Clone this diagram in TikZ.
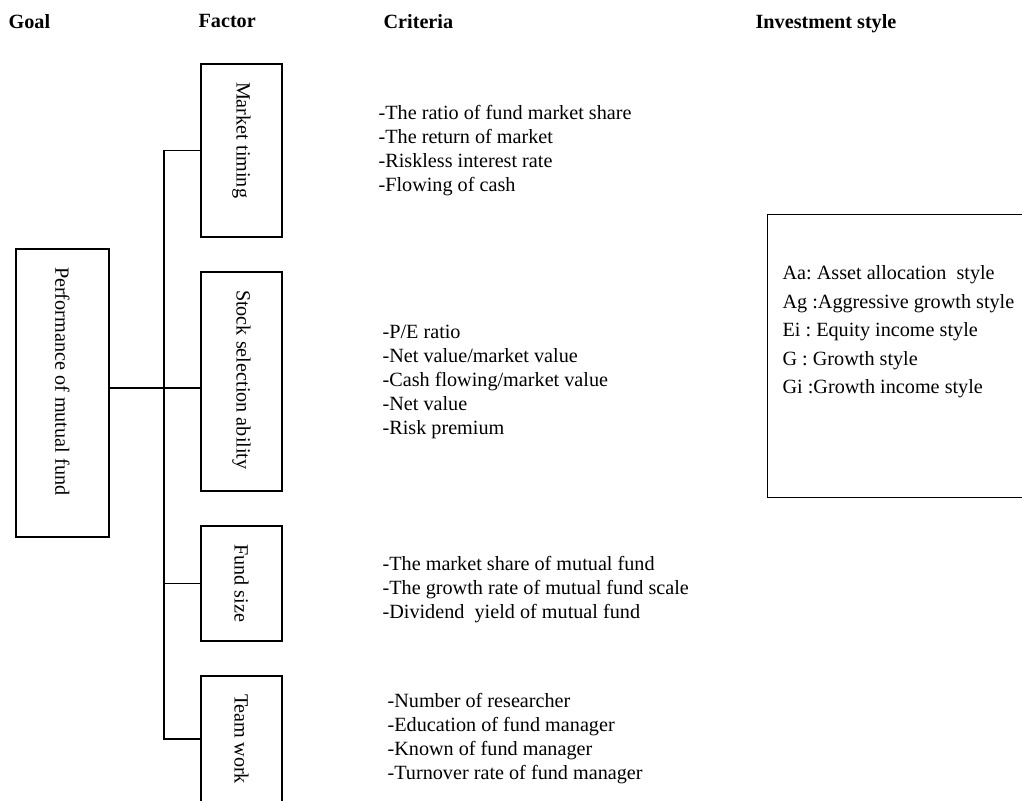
\documentclass[tikz,border=0pt]{standalone}
\usepackage{fontspec}
\setmainfont{Liberation Serif}
\frenchspacing
\begin{document}
\begin{tikzpicture}[x=.5pt, y=-.5pt, line width=.6pt,
  every node/.style={font=\fontsize{10.1pt}{12pt}\selectfont},
  heading/.style={anchor=north west, inner sep=0pt, font=\fontsize{10.1pt}{12pt}\selectfont\bfseries},
  factorbox/.style={draw, rotate=-90, inner xsep=9pt, inner ysep=0pt, minimum height=40.5pt, text width=#1, align=flush left},
  criteria/.style={anchor=north west, inner sep=0pt, align=flush left}]
  \useasboundingbox (0,0) rectangle (1022,800);

  % column headings
  \node (hgoal) [heading] at (8,14) {Goal};
  \node (hfactor) [heading] at (198,14) {Factor};
  \node (hcriteria) [heading] at (383,14) {Criteria};
  \node (hstyle) [heading] at (755,14) {Investment style};

  % goal and factors
  \node (goal) [factorbox=126pt, minimum height=46.5pt] at (62.5,393) {Performance~of~mutual~fund};
  \node (mt) [factorbox=68.5pt] at (241.5,150.5) {Market~timing};
  \node (ss) [factorbox=91.5pt] at (241.5,381.5) {Stock~selection~ability};
  \node (fs) [factorbox=39.5pt] at (241.5,583.5) {Fund~size};
  \node (tw) [factorbox=45pt] at (241.5,739) {Team~work};

  \coordinate (j) at (164,388);
  \draw (mt.south) -- (mt.south -| j) -- (tw.south -| j) -- (tw.south);
  \draw (fs.south) -- (fs.south -| j);
  \draw (j -| goal.north) -- (j -| ss.south);

  % criteria
  \node (cmt) [criteria] at (378,105) {-The ratio of fund market share\\-The return of market\\-Riskless interest rate\\-Flowing of cash};
  \node (css) [criteria] at (382,325) {-P/E ratio\\-Net value/market value\\-Cash flowing/market value\\-Net value\\-Risk premium};
  \node (cfs) [criteria] at (382,556) {-The market share of mutual fund\\-The growth rate of mutual fund scale\\-Dividend\ \ yield of mutual fund};
  \node (ctw) [criteria] at (387,693) {-Number of researcher\\-Education of fund manager\\-Known of fund manager\\-Turnover rate of fund manager};

  % investment styles
  \node (stylebox) [draw, anchor=north west, inner sep=0pt, minimum width=131.5pt, minimum height=141.5pt] at (767,214) {};
  \node (stylelist) [criteria, font=\fontsize{10.1pt}{14.25pt}\selectfont] at (782,265) {Aa: Asset allocation\ \ style\\Ag :Aggressive growth style\\Ei : Equity income style\\G : Growth style\\Gi :Growth income style};
\end{tikzpicture}
\end{document}
